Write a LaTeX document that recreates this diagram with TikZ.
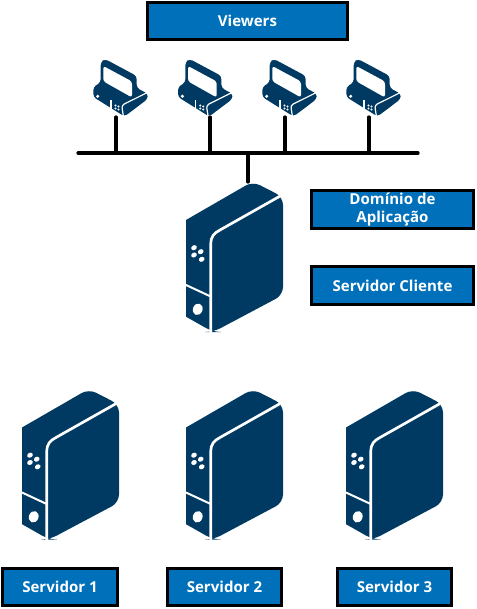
\documentclass[tikz,border=0pt]{standalone}
\usepackage{fontspec}
\setmainfont{Open Sans}
\definecolor{azulcaixa}{RGB}{0,112,186}
\definecolor{azulmaquina}{RGB}{0,58,99}
\tikzset{
    caixa/.style = {draw = black, line width = 2.2pt, fill = azulcaixa, text = white,
        font = \fontsize{11.3}{14}\selectfont\bfseries, align = center, inner sep = 0pt},
    linha/.style = {line width = 2.4pt, line cap = round},
    servidor/.pic = {
        \fill[azulmaquina, rounded corners = 6] (0, 38) -- (66.7, -0.5) -- (97, 15) -- (97, 113)
            -- (27.3, 150) -- (27, 150) [sharp corners] -- (0, 134.7) -- cycle;
        \draw[white, line width = 2pt] (96, 13) -- (34, 48)
            .. controls (28, 51) and (24.7, 55) .. (24.7, 62) -- (24.7, 151);
        \draw[white, line width = 1.5pt] (0, 103) -- (24.7, 114.5);
        \foreach \x/\y in {8/65.7, 14.7/69.7, 8/73, 15.7/77.3}
            \fill[white, rotate around = {30:(\x, \y)}] (\x, \y) ellipse (2.2pt and 1.8pt);
        \fill[white, rotate around = {-20:(11.7, 127.3)}] (11.7, 127.3) ellipse (3.6pt and 4.4pt);
    },
    visor/.pic = {
        \fill[azulmaquina, rounded corners = 2.5] (13, 0) -- (44.7, 17) -- (44.7, 29) -- (55.7, 34.7)
            -- (55.7, 40) -- (32.5, 57.5) -- (1.3, 38) -- (1.3, 28) -- (8.7, 23.5) -- (8.7, 3) -- cycle;
        \fill[white, rounded corners = 2] (11.3, 7) -- (40, 22.5) -- (40, 38.5) -- (11.3, 22.3) -- cycle;
        \draw[white, line width = 0.9pt, rounded corners = 2] (31.3, 56.8) -- (29.7, 46.3) -- (55, 33.7);
        \draw[white, line width = 0.8pt] (19, 41.3) -- (19, 49.7);
        \fill[white] (5.7, 37.3) circle (1.3pt);
        \foreach \x/\y in {23.5/46.5, 26.5/47.5, 23.5/49.5, 26.5/50.5}
            \fill[white] (\x, \y) circle (0.8pt);
    },
}

\begin{document}
\begin{tikzpicture}[x = 0.75pt, y = -0.75pt]
    \useasboundingbox (0, 0) rectangle (477, 609);

    % computadores
    \foreach \x in {92, 176.7, 261, 345}
        \pic at (\x, 59) {visor};

    % servidores
    \pic at (186, 182) {servidor};
    \pic at (22, 389.5) {servidor};
    \pic at (186, 389.5) {servidor};
    \pic at (346, 389.5) {servidor};

    % barramento
    \coordinate (barraE) at (78, 153);
    \coordinate (barraD) at (418, 153);
    \coordinate (barraC) at (248, 153);
    \coordinate (topo) at (248, 182);
    \draw[linha] (barraE) -- (barraD);
    \draw[linha] (barraC) -- (topo);
    \foreach \i/\x in {1/116, 2/210, 3/285, 4/369} {
        \coordinate (visor\i) at (\x, 117);
        \coordinate (barra\i) at (\x, 153);
        \draw[linha] (visor\i) -- (barra\i);
    }

    % caixas
    \node[caixa, minimum width = 150pt, minimum height = 27.5pt] (viewers) at (247.5, 21) {Viewers};
    \node[caixa, minimum width = 121.5pt, minimum height = 28.5pt] (dominio) at (392.5, 209.5) {Domínio de\\Aplicação};
    \node[caixa, minimum width = 121.5pt, minimum height = 28.5pt] (cliente) at (392.5, 285.5) {Servidor Cliente};
    \node[caixa, minimum width = 86pt, minimum height = 28pt] (servidor1) at (60, 587) {Servidor 1};
    \node[caixa, minimum width = 86pt, minimum height = 28pt] (servidor2) at (224.5, 587) {Servidor 2};
    \node[caixa, minimum width = 86pt, minimum height = 28pt] (servidor3) at (394.5, 587) {Servidor 3};
\end{tikzpicture}
\end{document}
